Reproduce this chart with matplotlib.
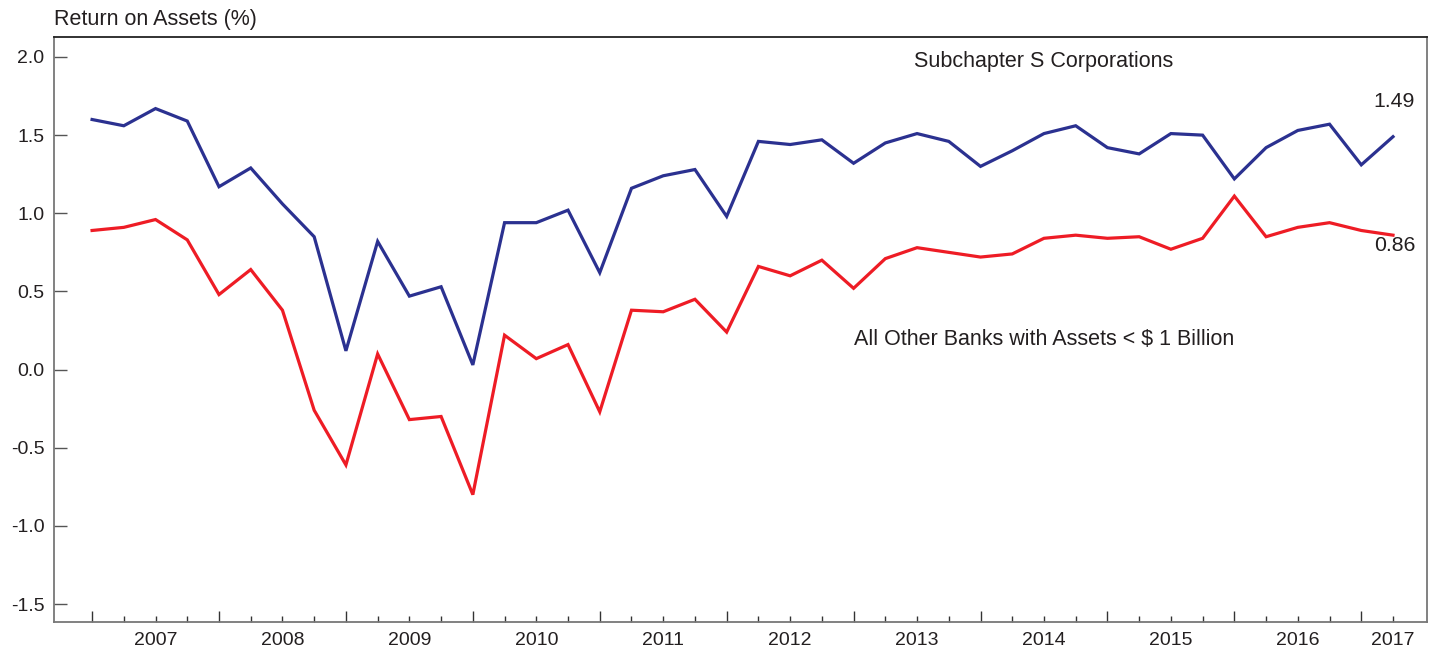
import numpy as np
import matplotlib
matplotlib.use("Agg")
import matplotlib.pyplot as plt

plt.rcParams['font.family'] = ['Liberation Sans', 'DejaVu Sans']
plt.rcParams['axes.unicode_minus'] = False

# quarterly, 2006Q4 .. 2017Q1
quarters = np.arange(42)
sub_s = [1.60, 1.56, 1.67, 1.59, 1.17, 1.29, 1.06, 0.85, 0.12, 0.82,
         0.47, 0.53, 0.03, 0.94, 0.94, 1.02, 0.62, 1.16, 1.24, 1.28,
         0.98, 1.46, 1.44, 1.47, 1.32, 1.45, 1.51, 1.46, 1.30, 1.40,
         1.51, 1.56, 1.42, 1.38, 1.51, 1.50, 1.22, 1.42, 1.53, 1.57,
         1.31, 1.49]
other = [0.89, 0.91, 0.96, 0.83, 0.48, 0.64, 0.38, -0.26, -0.61, 0.10,
         -0.32, -0.30, -0.80, 0.22, 0.07, 0.16, -0.27, 0.38, 0.37, 0.45,
         0.24, 0.66, 0.60, 0.70, 0.52, 0.71, 0.78, 0.75, 0.72, 0.74,
         0.84, 0.86, 0.84, 0.85, 0.77, 0.84, 1.11, 0.85, 0.91, 0.94,
         0.89, 0.86]
years = ['2007', '2008', '2009', '2010', '2011', '2012', '2013', '2014',
         '2015', '2016', '2017']
year_pos = [2, 6, 10, 14, 18, 22, 26, 30, 34, 38, 41]

txt = '#231f20'
fig = plt.figure(figsize=(14.36, 6.51), dpi=100)
ax = fig.add_axes([0.0376, 0.0445, 0.9561, 0.8987])

ax.plot(quarters, sub_s, color='#2b3190', lw=2.3, solid_joinstyle='miter')
ax.plot(quarters, other, color='#ee1c25', lw=2.3, solid_joinstyle='miter')

ax.set_xlim(-1.2, 42.07)
ax.set_ylim(-1.615, 2.128)

ax.set_yticks([-1.5, -1.0, -0.5, 0.0, 0.5, 1.0, 1.5, 2.0])
ax.set_yticklabels(['-1.5', '-1.0', '-0.5', '0.0', '0.5', '1.0', '1.5', '2.0'])
ax.tick_params(axis='y', direction='in', length=9.5, width=1, color='#555555',
               labelsize=14, labelcolor=txt, pad=7)

ax.set_xticks(np.arange(0, 42, 4))
ax.set_xticks(quarters, minor=True)
ax.set_xticklabels([])
ax.tick_params(axis='x', which='major', direction='in', length=8, width=1, color='#333333')
ax.tick_params(axis='x', which='minor', direction='in', length=4.5, width=1, color='#333333')

for lab, pos in zip(years, year_pos):
    ax.text(pos, -0.031, lab, transform=ax.get_xaxis_transform(),
            ha='center', va='center', fontsize=14, color=txt)

for side in ['left', 'bottom', 'right']:
    ax.spines[side].set_color('#777777')
    ax.spines[side].set_linewidth(1.3)
ax.spines['top'].set_color('#222222')
ax.spines['top'].set_linewidth(1.3)

fig.text(54 / 1436, 1 - 20 / 651, 'Return on Assets (%)', ha='left', va='center',
         fontsize=15.5, color=txt)

ax.text(30.0, 1.969, 'Subchapter S Corporations', ha='center', va='center',
        fontsize=15.5, color=txt)
ax.text(30.0, 0.192, 'All Other Banks with Assets < $ 1 Billion', ha='center',
        va='center', fontsize=15.5, color=txt)
ax.text(41.7, 1.714, '1.49', ha='right', va='center', fontsize=15.3, color=txt)
ax.text(41.7, 0.793, '0.86', ha='right', va='center', fontsize=15.3, color=txt)

fig.savefig('out.png', dpi=100)
